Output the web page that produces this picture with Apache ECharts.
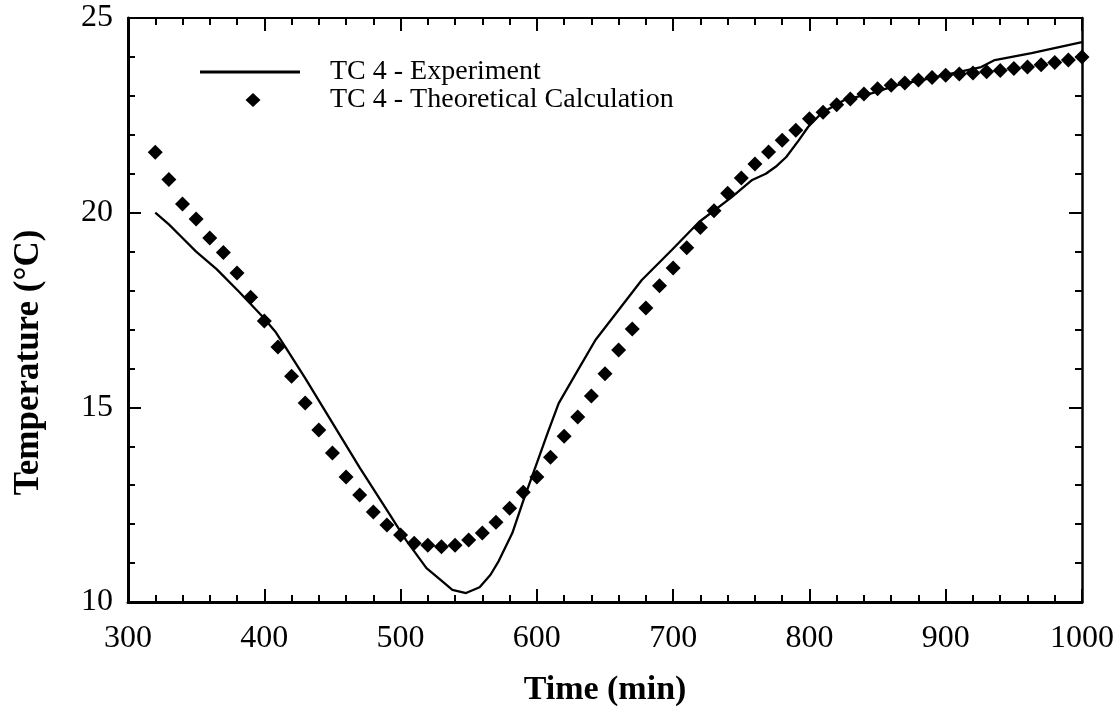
<!DOCTYPE html>
<html>
<head>
<meta charset="utf-8">
<script src="https://cdn.jsdelivr.net/npm/echarts@6/dist/echarts.min.js"></script>
<style>
html,body{margin:0;padding:0;background:#fff;}
#chart{width:1117px;height:713px;}
</style>
</head>
<body>
<div id="chart"></div>
<script>
// Theoretical calculation (diamonds), every 10 min
const theoryTime = [320,330,340,350,360,370,380,390,400,410,420,430,440,450,460,470,480,490,500,510,520,530,540,550,560,570,580,590,600,610,620,630,640,650,660,670,680,690,700,710,720,730,740,750,760,770,780,790,800,810,820,830,840,850,860,870,880,890,900,910,920,930,940,950,960,970,980,990,1000];
const theoryTemp = [21.55,20.85,20.22,19.84,19.35,18.98,18.45,17.83,17.22,16.55,15.8,15.11,14.42,13.83,13.21,12.75,12.31,11.98,11.72,11.51,11.46,11.42,11.46,11.59,11.77,12.05,12.41,12.82,13.21,13.72,14.26,14.75,15.29,15.86,16.47,17.01,17.55,18.12,18.58,19.1,19.62,20.05,20.5,20.89,21.25,21.56,21.86,22.12,22.41,22.58,22.77,22.92,23.05,23.18,23.27,23.33,23.41,23.47,23.53,23.56,23.59,23.62,23.65,23.7,23.74,23.8,23.86,23.92,24.0];

// Experiment (solid line)
const expTime = [320,330,340,350,365,382,399,408,416,430,450,470,490,504,519,530,538,548,558,566,572,582,590,599,608,616,630,643,660,677,699,719,743,758,768,776,783,792,799,809,826,846,865,890,909,926,936,963,1000];
const expTemp = [20.0,19.7,19.35,19.0,18.55,17.95,17.32,16.95,16.52,15.75,14.6,13.45,12.36,11.59,10.87,10.55,10.31,10.23,10.38,10.7,11.05,11.77,12.6,13.47,14.35,15.1,15.95,16.73,17.5,18.27,19.04,19.76,20.4,20.84,21.0,21.2,21.43,21.85,22.2,22.56,22.9,23.07,23.28,23.46,23.61,23.74,23.92,24.1,24.38];

const seriesNames = ['TC 4 - Experiment', 'TC 4 - Theoretical Calculation'];
const xTicks = [300,400,500,600,700,800,900,1000];
const yTicks = [10,15,20,25];

const FONT = 'Liberation Serif';
const chart = echarts.init(document.getElementById('chart'), null, {renderer:'canvas'});

function axisBase(isX, showLabel, pos, lineW){
  return {
    type:'value',
    position: pos,
    min: isX ? xTicks[0] : yTicks[0],
    max: isX ? xTicks[xTicks.length-1] : yTicks[yTicks.length-1],
    interval: isX ? 100 : 5,
    axisLine:{show:true, onZero:false, lineStyle:{color:'#000', width:lineW}},
    axisTick:{show:true, inside:true, length:13, lineStyle:{color:'#000', width:2}},
    minorTick:{show:true, splitNumber:5, length:7, lineStyle:{color:'#000', width:2}},
    splitLine:{show:false},
    minorSplitLine:{show:false},
    axisLabel:{show:showLabel, color:'#000', fontFamily:FONT, fontSize:32,
               margin: isX ? 21 : 15, formatter: v => String(v)},
  };
}

const xBottom = Object.assign(axisBase(true, true, 'bottom', 3), {
  name:'Time (min)', nameLocation:'middle', nameGap:71,
  nameTextStyle:{color:'#000', fontFamily:FONT, fontSize:34, fontWeight:'bold'}
});
const xTop = axisBase(true, false, 'top', 2);
const yLeft = Object.assign(axisBase(false, true, 'left', 3), {
  name:'Temperature (°C)', nameLocation:'middle', nameGap:82,
  nameTextStyle:{color:'#000', fontFamily:FONT, fontSize:35, fontWeight:'bold',
                 padding:[0, 105, 0, 0]}
});
const yRight = axisBase(false, false, 'right', 2.5);

const option = {
  backgroundColor:'#fff',
  animation:false,
  grid:{left:128, right:34, top:18, bottom:111, containLabel:false},
  xAxis:[xBottom, xTop],
  yAxis:[yLeft, yRight],
  legend:{
    orient:'vertical', left:200, top:58, padding:0,
    itemWidth:125, itemHeight:14, itemGap:0,
    textStyle:{color:'#000', fontFamily:FONT, fontSize:28, lineHeight:14},
    itemStyle:{borderWidth:0},
    lineStyle:{width:0},
    data:[
      {name:seriesNames[0], icon:'path://M0,5.5L100,5.5L100,8.5L0,8.5Z M0,0L0.01,0L0.01,0.01Z M125,14L124.99,14L124.99,13.99Z'},
      {name:seriesNames[1], icon:'path://M53,0L60.5,7L53,14L45.5,7Z M0,0L0.01,0L0.01,0.01Z M125,14L124.99,14L124.99,13.99Z'}
    ]
  },
  series:[
    {
      name:seriesNames[0], type:'line', xAxisIndex:0, yAxisIndex:0,
      data: expTime.map((t,i)=>[t, expTemp[i]]),
      symbol:'none', showSymbol:false,
      lineStyle:{color:'#000', width:2.3},
      itemStyle:{color:'#000'},
      z:2
    },
    {
      name:seriesNames[1], type:'scatter', xAxisIndex:0, yAxisIndex:0,
      data: theoryTime.map((t,i)=>[t, theoryTemp[i]]),
      symbol:'diamond', symbolSize:15,
      itemStyle:{color:'#000', opacity:1},
      z:3
    }
  ]
};
chart.setOption(option);
</script>
</body>
</html>
